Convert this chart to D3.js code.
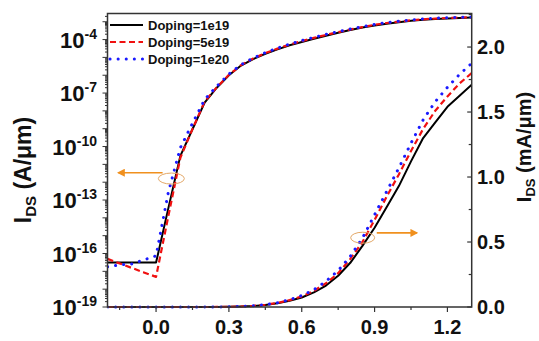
<!DOCTYPE html>
<html>
<head>
<meta charset="utf-8">
<script src="https://cdn.jsdelivr.net/npm/d3@7"></script>
<style>
  body { margin: 0; background: #fff; }
  svg text { font-family: "Liberation Sans", Arial, sans-serif; font-weight: bold; fill: #111; }
</style>
</head>
<body>
<svg id="chart" width="539" height="341"></svg>
<script>
// gate voltage (V)
var vgs = [-0.2, -0.15, -0.1, -0.05, 0.0, 0.05, 0.1, 0.15, 0.2, 0.25, 0.3, 0.35, 0.4, 0.45, 0.5,
           0.55, 0.6, 0.65, 0.7, 0.75, 0.8, 0.85, 0.9, 0.95, 1.0, 1.05, 1.1, 1.15, 1.2, 1.25, 1.3];

// drain current IDS (A/um) for each doping
var ids1e19 = [3.1e-17, 3.1e-17, 3.1e-17, 3.1e-17, 3.1e-17, 3.2e-14, 3.0e-11, 9.3e-10, 2.9e-8, 2.0e-7,
               1.0e-6, 3.5e-6, 8.0e-6, 1.6e-5, 2.8e-5, 4.8e-5, 7.3e-5, 1.12e-4, 1.65e-4, 2.4e-4,
               3.4e-4, 4.7e-4, 6.1e-4, 7.7e-4, 9.3e-4, 1.12e-3, 1.30e-3, 1.42e-3, 1.54e-3, 1.625e-3, 1.71e-3];
var ids5e19 = [5.0e-17, 2.8e-17, 1.55e-17, 8.7e-18, 4.9e-18, 1.15e-14, 2.3e-11, 9.5e-10, 3.3e-8, 2.1e-7,
               1.05e-6, 3.7e-6, 8.7e-6, 1.75e-5, 3.1e-5, 5.3e-5, 8.2e-5, 1.24e-4, 1.83e-4, 2.6e-4,
               3.7e-4, 5.0e-4, 6.7e-4, 8.5e-4, 1.02e-3, 1.20e-3, 1.37e-3, 1.51e-3, 1.62e-3, 1.72e-3, 1.80e-3];
var ids1e20 = [1.8e-17, 2.3e-17, 2.6e-17, 4.4e-17, 7.4e-17, 2.5e-13, 8.5e-11, 2.0e-9, 4.3e-8, 2.4e-7,
               1.15e-6, 3.9e-6, 9.2e-6, 1.85e-5, 3.3e-5, 5.6e-5, 8.8e-5, 1.33e-4, 1.98e-4, 2.8e-4,
               3.9e-4, 5.3e-4, 7.1e-4, 8.9e-4, 1.07e-3, 1.26e-3, 1.44e-3, 1.58e-3, 1.69e-3, 1.79e-3, 1.875e-3];

var seriesNames = ["Doping=1e19", "Doping=5e19", "Doping=1e20"];
var xTicks = [0.0, 0.3, 0.6, 0.9, 1.2];
var logTickExps = [-19, -16, -13, -10, -7, -4];
var linTicks = [0.0, 0.5, 1.0, 1.5, 2.0];

(function(){
  var svg = d3.select("#chart");
  var left = 107.5, right = 471.7, top = 13.5, bottom = 307;

  var x = d3.scaleLinear().domain([-0.2, 1.3]).range([left, right]);
  var yLog = d3.scaleLog().domain([1e-19, 2.9e-3]).range([bottom, top]);
  var yLin = d3.scaleLinear().domain([0, 2.258]).range([bottom, top]);

  var styles = [
    {color: "#000", dash: null, width: 2, cap: "butt"},
    {color: "#f01010", dash: "6,3.5", width: 2.2, cap: "butt"},
    {color: "#1a1aff", dash: "0.1,8", width: 3, cap: "round"}
  ];
  var allIds = [ids1e19, ids5e19, ids1e20];

  svg.append("defs").append("clipPath").attr("id", "plotClip")
    .append("rect").attr("x", left).attr("y", top).attr("width", right - left).attr("height", bottom - top + 2);

  var plot = svg.append("g").attr("clip-path", "url(#plotClip)");

  var logLine = d3.line().x(function(d){ return x(d[0]); }).y(function(d){ return yLog(d[1]); });
  var linLine = d3.line().x(function(d){ return x(d[0]); }).y(function(d){ return yLin(d[1] * 1000); });

  allIds.forEach(function(ids, i){
    var pts = vgs.map(function(v, k){ return [v, ids[k]]; });
    [logLine, linLine].forEach(function(gen){
      plot.append("path")
        .attr("d", gen(pts))
        .attr("fill", "none")
        .attr("stroke", styles[i].color)
        .attr("stroke-width", styles[i].width)
        .attr("stroke-dasharray", styles[i].dash)
        .attr("stroke-linecap", styles[i].cap)
        .attr("stroke-linejoin", "round");
    });
  });

  // frame
  var axisColor = "#333";
  svg.append("rect").attr("x", left).attr("y", top).attr("width", right - left).attr("height", bottom - top)
    .attr("fill", "none").attr("stroke", axisColor).attr("stroke-width", 1.5);

  // bottom axis
  var xAxis = svg.append("g");
  d3.range(-0.15, 1.31, 0.15).forEach(function(t){
    var major = xTicks.some(function(m){ return Math.abs(m - t) < 1e-6; });
    xAxis.append("line").attr("x1", x(t)).attr("x2", x(t)).attr("y1", bottom).attr("y2", bottom + (major ? 5 : 3))
      .attr("stroke", axisColor).attr("stroke-width", 1.2);
  });
  xAxis.selectAll("text").data(xTicks).enter().append("text")
    .attr("x", function(d){ return x(d); }).attr("y", bottom + 27)
    .attr("text-anchor", "middle").attr("font-size", 20)
    .text(function(d){ return d3.format(".1f")(d); });

  // left log axis
  var yAxisL = svg.append("g");
  for (var e = -19; e <= -3; e++) {
    for (var m = 1; m <= 9; m++) {
      var v = m * Math.pow(10, e);
      if (v > yLog.domain()[1]) continue;
      yAxisL.append("line").attr("x1", left).attr("x2", left - (m === 1 ? 5 : 2.5))
        .attr("y1", yLog(v)).attr("y2", yLog(v))
        .attr("stroke", axisColor).attr("stroke-width", 1);
    }
  }
  logTickExps.forEach(function(p){
    var t = yAxisL.append("text").attr("x", 97).attr("y", yLog(Math.pow(10, p)) + 8)
      .attr("text-anchor", "end").attr("font-size", 22);
    t.append("tspan").text("10");
    t.append("tspan").attr("font-size", 14).attr("dy", -9).text(p);
  });

  // right linear axis (ticks inward)
  var yAxisR = svg.append("g");
  d3.range(0, 2.26, 0.25).forEach(function(t){
    var major = Math.abs(t * 2 - Math.round(t * 2)) < 1e-6;
    yAxisR.append("line").attr("x1", right).attr("x2", right - (major ? 4.5 : 3))
      .attr("y1", yLin(t)).attr("y2", yLin(t)).attr("stroke", axisColor).attr("stroke-width", 1.2);
  });
  yAxisR.selectAll("text").data(linTicks).enter().append("text")
    .attr("x", 477).attr("y", function(d){ return yLin(d) + 7; })
    .attr("font-size", 20)
    .text(function(d){ return d3.format(".1f")(d); });

  // axis titles
  var tl = svg.append("text").attr("transform", "translate(31," + 170 + ") rotate(-90)")
    .attr("text-anchor", "middle").attr("font-size", 23);
  tl.append("tspan").text("I");
  tl.append("tspan").attr("font-size", 15).attr("dy", 5).text("DS");
  tl.append("tspan").attr("dy", -5).text(" (A/\u03bcm)");

  var tr = svg.append("text").attr("transform", "translate(531," + 147 + ") rotate(-90)")
    .attr("text-anchor", "middle").attr("font-size", 20);
  tr.append("tspan").text("I");
  tr.append("tspan").attr("font-size", 13).attr("dy", 4).text("DS");
  tr.append("tspan").attr("dy", -4).text(" (mA/\u03bcm)");

  // legend
  var legend = svg.append("g");
  seriesNames.forEach(function(name, i){
    var ly = 25 + i * 17;
    legend.append("line").attr("x1", 110).attr("x2", 143).attr("y1", ly).attr("y2", ly)
      .attr("stroke", styles[i].color).attr("stroke-width", styles[i].width)
      .attr("stroke-dasharray", styles[i].dash).attr("stroke-linecap", styles[i].cap);
    legend.append("text").attr("x", 148).attr("y", ly + 4.5).attr("font-size", 13).text(name);
  });

  // annotations: ellipse + arrow pointing to the axis each curve set uses
  var orange = "#f0901e";
  svg.append("defs").selectAll("marker").data(["arrL", "arrR"]).enter().append("marker")
    .attr("id", function(d){ return d; }).attr("viewBox", "0 0 10 10").attr("refX", 8).attr("refY", 5)
    .attr("markerWidth", 5).attr("markerHeight", 5).attr("orient", "auto")
    .append("path").attr("d", "M0,0 L10,5 L0,10 z").attr("fill", orange);

  svg.append("ellipse").attr("cx", x(0.063)).attr("cy", yLog(1.6e-12)).attr("rx", 13).attr("ry", 5.5)
    .attr("fill", "none").attr("stroke", "#e3a868").attr("stroke-width", 1);
  svg.append("line").attr("x1", x(0.027)).attr("x2", x(-0.155)).attr("y1", yLog(3.4e-12)).attr("y2", yLog(3.4e-12))
    .attr("stroke", orange).attr("stroke-width", 1.6).attr("marker-end", "url(#arrL)");

  svg.append("ellipse").attr("cx", x(0.851)).attr("cy", yLin(0.533)).attr("rx", 12).attr("ry", 5.5)
    .attr("fill", "none").attr("stroke", "#e3a868").attr("stroke-width", 1);
  svg.append("line").attr("x1", x(0.909)).attr("x2", x(1.074)).attr("y1", yLin(0.57)).attr("y2", yLin(0.57))
    .attr("stroke", orange).attr("stroke-width", 1.6).attr("marker-end", "url(#arrR)");
})();
</script>
</body>
</html>
